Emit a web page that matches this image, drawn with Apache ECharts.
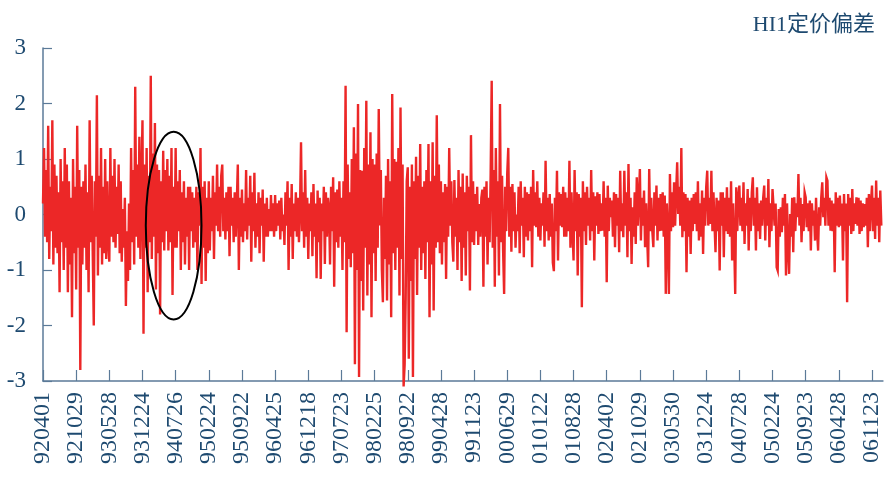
<!DOCTYPE html>
<html>
<head>
<meta charset="utf-8">
<script src="https://cdn.jsdelivr.net/npm/echarts@6/dist/echarts.min.js"></script>
<style>html,body{margin:0;padding:0;background:#fff}#c{width:884px;height:481px}</style>
</head>
<body>
<div id="c"></div>
<script>
const title = 'HI1定价偏差';
const tickLabels = ['920401','921029','930528','931224','940726','950224','950922','960425','961218','970723','980225','980922','990428','991123','000629','010122','010828','020402','021029','030530','031224','040728','050224','050923','060428','061123'];
const POINTS_PER_TICK = 32;
const values = [
0.2,1.2,-0.4,0.8,-0.5,1.6,-0.8,0.5,-0.3,1.7,-0.9,0.9,-0.6,0.7,-0.7,0.4,-1.4,1.0,-0.5,0.6,-1.0,1.2,-0.6,0.9,-1.4,0.6,-0.9,0.3,-1.85,1.0,-0.7,0.5,
-1.35,1.6,-0.6,0.8,-2.8,0.5,-0.9,0.6,-0.6,0.9,-1.0,0.4,-1.4,1.7,-0.5,0.7,-0.7,-2.0,0.6,-0.4,2.15,-1.1,0.7,-0.6,1.2,-0.9,0.5,-0.7,1.0,-0.8,0.6,-0.5,
-0.85,1.2,-0.4,0.7,-0.5,1.0,-0.6,0.5,-0.35,0.9,-0.7,0.6,-0.85,0.1,-0.6,0.3,-1.65,-0.3,-1.2,0.2,-1.0,1.2,-0.5,0.8,-0.9,2.3,-0.4,0.9,-0.6,1.4,-0.8,0.6,
1.7,-2.15,0.9,-0.6,1.2,-1.4,0.7,-0.5,2.5,-0.8,1.1,-0.4,1.65,-1.35,0.9,-0.7,0.8,-1.8,0.6,-0.5,1.15,-0.65,0.8,-0.3,1.0,-0.65,0.7,-0.5,1.2,-1.45,0.5,-0.6,
1.2,-0.6,0.6,-0.3,0.8,-1.0,0.4,-0.5,0.6,-0.9,0.3,-0.4,0.5,-1.0,0.5,-0.3,0.4,-0.6,0.3,-0.5,0.5,-1.0,0.4,-0.2,1.2,-1.25,0.5,-0.6,0.6,-1.2,0.3,-0.7,
0.6,-0.65,0.3,-0.3,0.7,-0.8,0.4,-0.2,0.9,-0.3,0.5,-0.4,0.7,0.9,-0.3,0.3,-0.45,0.4,-0.3,0.5,-0.75,0.5,-0.2,0.3,-0.5,0.4,-0.4,0.2,0.9,-1.0,0.3,-0.4,
0.45,-0.5,0.2,-0.3,0.8,-0.45,0.3,-0.2,0.7,-0.85,0.4,-0.3,0.75,-0.6,0.2,-0.4,0.4,-0.7,0.3,-0.2,0.45,-0.85,0.2,-0.4,0.3,-0.4,0.1,-0.3,0.35,-0.3,0.2,-0.4,
0.35,-0.3,0.2,-0.2,0.25,-0.45,0.3,-0.3,0.0,-0.55,0.4,-0.2,0.6,-1.0,0.3,-0.4,0.55,-0.8,0.2,-0.3,0.4,-0.4,0.3,-0.5,0.1,1.3,-0.3,0.4,-0.6,0.8,-0.4,0.3,
-0.8,0.2,-0.3,0.4,-0.75,0.55,-0.4,0.2,-1.15,0.43,-0.5,0.3,-1.16,0.2,-0.3,0.5,-0.89,0.4,-0.4,0.3,0.1,-0.9,0.5,-0.3,0.67,-1.3,0.4,-0.5,0.45,-0.6,0.6,-0.4,
0.3,-1.0,0.6,-0.5,2.32,-2.12,0.9,-0.8,0.4,-0.95,1.0,-0.7,1.57,-2.7,1.1,-1.0,1.99,-2.93,0.8,-1.2,0.79,-1.73,1.2,-0.6,2.05,-1.46,0.9,-0.9,1.48,-1.85,1.0,-0.7,
0.9,-1.2,1.1,-0.6,1.9,-0.2,0.8,-1.0,-1.58,0.3,-0.8,0.7,-1.55,1.0,-0.9,0.6,-1.85,2.17,-0.7,1.0,-1.0,0.95,-0.6,1.2,-1.46,1.93,-0.8,0.9,-3.1,-2.7,-1.5,0.6,
0.85,-2.6,0.5,-1.2,0.9,-2.93,0.6,-0.8,1.04,-1.45,0.7,-0.6,1.27,-1.0,0.5,-0.7,0.6,-1.16,0.8,-0.5,1.27,-1.85,0.6,-0.9,1.3,-1.73,0.7,-0.6,1.79,-0.5,0.9,-0.7,
0.6,-0.9,0.4,-0.5,0.55,-1.16,0.5,-0.4,1.2,-0.2,0.6,-0.5,-0.85,0.62,-0.4,0.3,-1.0,0.8,-0.5,0.5,-1.2,0.74,-0.6,0.4,-1.1,0.7,-0.3,0.5,-1.37,1.43,-0.5,0.6,
-0.55,0.37,-0.3,0.5,-0.55,0.19,-0.4,0.3,0.45,-1.3,0.5,-0.4,0.6,-0.9,0.3,-0.5,0.74,2.41,-0.6,0.8,-1.3,1.2,-0.4,0.6,-1.1,1.99,-0.5,0.7,-0.65,-1.43,0.5,-0.3,
0.74,1.2,-0.4,0.5,-0.67,0.55,-0.3,0.4,-0.6,0.0,-0.3,0.5,-0.7,0.6,-0.2,0.3,-0.77,0.5,-0.4,0.4,-0.47,0.37,-0.3,0.5,-0.95,0.8,-0.2,0.4,-0.23,0.6,-0.4,0.3,
-0.47,0.2,-0.2,0.4,-0.58,0.97,-0.3,0.3,-0.47,0.37,-0.4,0.2,-0.87,-1.02,0.3,-0.3,0.79,-0.83,0.4,-0.2,0.37,-0.23,0.5,-0.4,0.4,-0.4,0.3,-0.3,0.97,-0.6,0.4,-0.3,
-0.83,0.8,-0.3,0.4,-1.1,0.37,-0.4,0.3,-1.67,0.6,-0.3,0.4,-0.55,0.5,-0.2,0.3,-0.47,0.8,-0.3,0.4,-0.83,0.33,-0.2,0.4,-0.35,0.37,-0.3,0.2,-0.29,0.6,-0.4,0.3,
-1.22,0.52,-0.3,0.3,-0.05,0.25,-0.4,0.4,-0.59,0.37,-0.2,0.3,-0.68,0.79,-0.3,0.2,-0.41,0.79,-0.2,0.4,-0.77,0.91,-0.3,0.3,-0.89,0.13,-0.4,0.4,-0.53,0.67,-0.2,0.3,
0.82,-0.47,0.3,-0.2,0.43,-0.59,0.2,-0.4,-0.95,0.82,-0.3,0.3,-0.29,-0.59,0.4,-0.2,0.52,-0.47,0.3,-0.3,0.37,-0.29,0.4,-0.4,0.34,-1.43,0.2,-0.3,-1.43,0.73,-0.3,0.4,
-0.23,0.58,-0.2,0.4,0.94,0.01,0.5,-0.2,1.2,-0.41,0.4,-0.3,0.37,-1.04,0.3,-0.4,0.25,-0.71,0.3,-0.3,0.37,-0.17,0.4,-0.3,0.6,-0.47,0.2,-0.4,0.43,-0.71,0.3,-0.2,
0.49,0.79,-0.2,0.3,-0.17,0.79,-0.3,0.4,-0.17,-0.68,0.3,-0.3,0.25,-1.01,0.4,-0.2,0.4,-0.77,0.3,-0.3,0.49,-0.35,0.3,-0.4,0.6,-0.83,0.2,-0.5,-1.43,0.49,-0.3,0.3,
0.52,-0.2,0.3,-0.3,0.58,-0.53,0.2,-0.2,0.46,-0.65,0.3,-0.3,0.4,0.67,-0.2,0.3,-0.65,0.49,-0.3,0.2,-0.44,0.25,-0.2,0.3,0.52,-0.47,0.3,-0.2,0.64,-0.59,0.2,-0.3,
0.46,0.49,-0.2,0.2,-0.95,-1.01,0.1,-0.4,0.13,-0.32,0.3,-0.2,0.37,-1.1,0.2,-0.6,-1.07,0.01,-0.4,0.3,-0.68,0.31,-0.3,0.2,-0.05,0.73,-0.2,0.3,-0.5,0.19,-0.3,0.4,
0.31,-0.23,0.2,-0.3,0.25,-0.65,0.2,-0.2,0.07,-0.47,0.3,-0.3,-0.65,0.13,-0.2,0.3,0.58,-0.05,0.3,-0.2,0.67,0.61,-0.2,0.3,-0.29,0.25,-0.3,0.2,-1.04,0.4,-0.2,0.3,
-0.23,0.34,-0.2,0.2,-0.83,0.37,-0.3,0.2,-1.58,0.37,-0.2,0.3,-0.35,0.46,-0.3,0.2,-0.17,0.31,-0.2,0.3,-0.35,0.25,-0.3,0.2,-0.23,0.19,-0.2,0.3,-0.59,0.37,-0.3,0.2,
0.52,-0.3,0.3,-0.44,0.61,-0.2,0.3,-0.5,0.43,-0.2
];
// annotation ellipse, in data units (tick index, value)
const ellipseCenter = [3.94, -0.2];
const ellipseRadii = [0.84, 1.69];

const axisColor = '#5b7a98';
const textColor = '#1e4a70';
const serif = '"Liberation Serif","Times New Roman","Noto Sans CJK SC",serif';
const xMax = 25.33;

const chart = echarts.init(document.getElementById('c'));
const tickIdx = tickLabels.map((_, i) => i);
chart.setOption({
  animation: false,
  grid: { left: 43, right: 0, top: 48, bottom: 100, containLabel: false },
  title: {
    text: title, right: 4, top: 9,
    textStyle: { fontFamily: serif, fontSize: 22, fontWeight: 'normal', color: textColor }
  },
  xAxis: {
    type: 'value', min: 0, max: xMax, interval: 1,
    splitLine: { show: false },
    axisLine: { show: true, onZero: false, lineStyle: { color: axisColor, width: 1.5 } },
    axisTick: { show: true, inside: true, length: 11, customValues: tickIdx, lineStyle: { color: axisColor, width: 1.2 } },
    axisLabel: {
      customValues: tickIdx,
      rotate: 90, margin: 11,
      fontFamily: serif, fontSize: 24, color: textColor,
      formatter: v => tickLabels[Math.round(v)] || ''
    }
  },
  yAxis: {
    type: 'value', min: -3, max: 3, interval: 1,
    splitLine: { show: false },
    axisLine: { show: true, lineStyle: { color: axisColor, width: 1.5 } },
    axisTick: { show: true, inside: true, length: 9, lineStyle: { color: axisColor, width: 1.2 } },
    axisLabel: { margin: 17, fontFamily: serif, fontSize: 23, color: textColor }
  },
  series: [{
    type: 'line',
    data: values.map((v, i) => [i / POINTS_PER_TICK, v]),
    showSymbol: false,
    clip: false,
    lineStyle: { color: '#ec2727', width: 2.4, join: 'miter' },
    z: 2
  }]
});
const c = chart.convertToPixel({ gridIndex: 0 }, ellipseCenter);
const e1 = chart.convertToPixel({ gridIndex: 0 }, [ellipseCenter[0] + ellipseRadii[0], ellipseCenter[1] + ellipseRadii[1]]);
chart.setOption({
  graphic: [{
    type: 'ellipse', z: 10,
    shape: { cx: c[0], cy: c[1], rx: Math.abs(e1[0] - c[0]), ry: Math.abs(e1[1] - c[1]) },
    style: { fill: 'none', stroke: '#000', lineWidth: 2 }
  }]
});
</script>
</body>
</html>
